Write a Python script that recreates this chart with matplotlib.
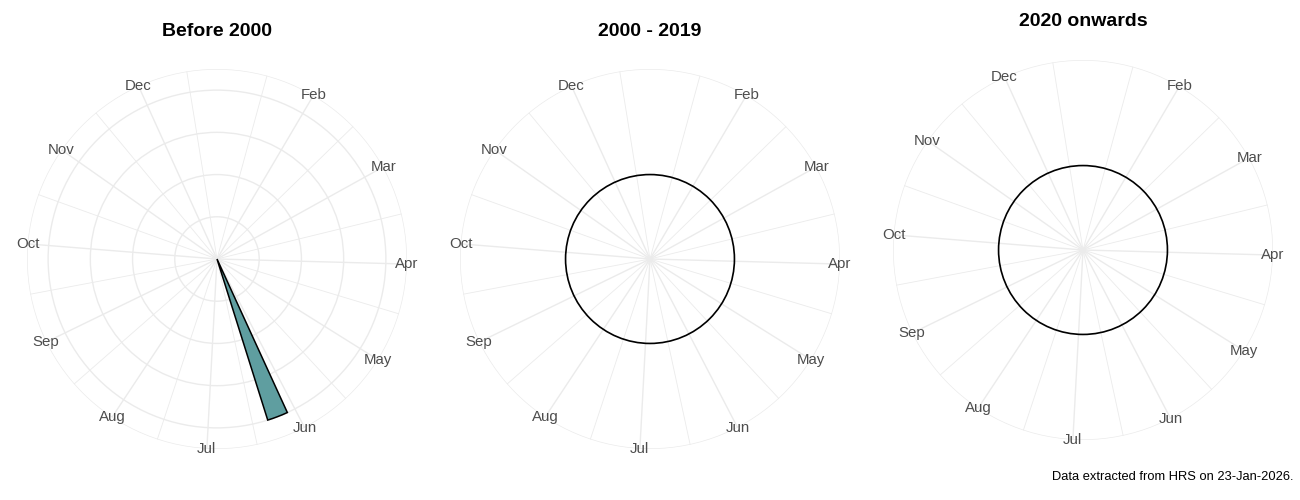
"""Seasonal polar bar charts of events by month, split into three periods."""

import numpy as np
import matplotlib
matplotlib.use("Agg")
import matplotlib.pyplot as plt
from matplotlib.patches import Circle

plt.rcParams["font.family"] = ["Liberation Sans", "DejaVu Sans"]

# ---- data -----------------------------------------------------------------
month_labels = ["Jan", "Feb", "Mar", "Apr", "May", "Jun",
                "Jul", "Aug", "Sep", "Oct", "Nov", "Dec"]
month_breaks = list(range(1, 13))
minor_breaks = [m + 0.5 for m in range(1, 13)]

period_titles = ["Before 2000", "2000 - 2019", "2020 onwards"]
# one entry per period: positions (fractional month), counts
period_x = [[6.21], [], []]
period_counts = [[1], [], []]
bar_width = 0.234

caption = "Data extracted from HRS on 23-Jan-2026."

# ---- scale helpers (mimic ggplot coord_polar) -------------------------------
X_MIN, X_MAX = 1.0, 12.8
R_DATA, R_OUTER = 0.4, 0.45
GRID = "#EBEBEB"
LABEL = "#4D4D4D"
FILL = "#5F9EA0"


def to_theta(x):
    return (np.asarray(x, dtype=float) - X_MIN) / (X_MAX - X_MIN) * 2 * np.pi


def to_r(y, lo, hi):
    return (np.asarray(y, dtype=float) - lo) / (hi - lo) * R_DATA


def ring(ax, r, **kw):
    # circle of data radius r, drawn in axes space so it closes cleanly
    ax.add_patch(Circle((0.5, 0.5), float(r) / R_OUTER * 0.5,
                        transform=ax.transAxes, fill=False, **kw))


fig = plt.figure(figsize=(13, 5), dpi=100)
W, H = 1300, 500
RPX = 190
centers = [(217, 259), (650, 259), (1083, 250)]
title_y = [31, 31, 22]

for i, title in enumerate(period_titles):
    cx, cy = centers[i]
    ax = fig.add_axes([(cx - RPX) / W, (H - cy - RPX) / H, 2 * RPX / W, 2 * RPX / H],
                      projection="polar")
    ax.set_theta_zero_location("N")
    ax.set_theta_direction(-1)
    ax.set_ylim(0, R_OUTER)
    ax.grid(False)
    ax.spines["polar"].set_visible(False)
    ax.set_xticks([])
    ax.set_yticks([])
    ax.patch.set_alpha(0)

    # spokes
    for mb in minor_breaks:
        t = to_theta(mb)
        ax.plot([t, t], [0, R_OUTER], color=GRID, lw=0.6, zorder=1)
    for mb in month_breaks[1:]:
        t = to_theta(mb)
        ax.plot([t, t], [0, R_OUTER], color=GRID, lw=1.0, zorder=1)
    ring(ax, R_OUTER, edgecolor=GRID, lw=1.0, zorder=1)

    counts = period_counts[i]
    if counts:
        lo, hi = 0, max(counts)
        for yb in np.linspace(lo, hi, 5)[1:]:
            ring(ax, to_r(yb, lo, hi), edgecolor=GRID, lw=1.0, zorder=1)
        ax.bar(to_theta(period_x[i]), to_r(counts, lo, hi),
               width=bar_width / (X_MAX - X_MIN) * 2 * np.pi, align="center",
               color=FILL, edgecolor="black", linewidth=1.1, zorder=3)
    else:
        # zero-range y scale: 0 sits in the middle of [-0.05, 0.05]
        lo, hi = -0.05, 0.05
        ring(ax, to_r(0, lo, hi), edgecolor="black", lw=1.2, zorder=3)

    for mb, lab in zip(month_breaks[1:], month_labels[1:]):
        ax.text(to_theta(mb), R_OUTER, lab, ha="center", va="center",
                fontsize=10.8, color=LABEL, zorder=4)

    fig.text(cx / W, 1 - title_y[i] / H, title, ha="center", va="center",
             fontsize=14, fontweight="bold", color="black")

fig.text(1293 / W, 1 - 477 / H, caption, ha="right", va="center",
         fontsize=9.3, color="black")

fig.savefig("out.png", dpi=100, facecolor="white")
